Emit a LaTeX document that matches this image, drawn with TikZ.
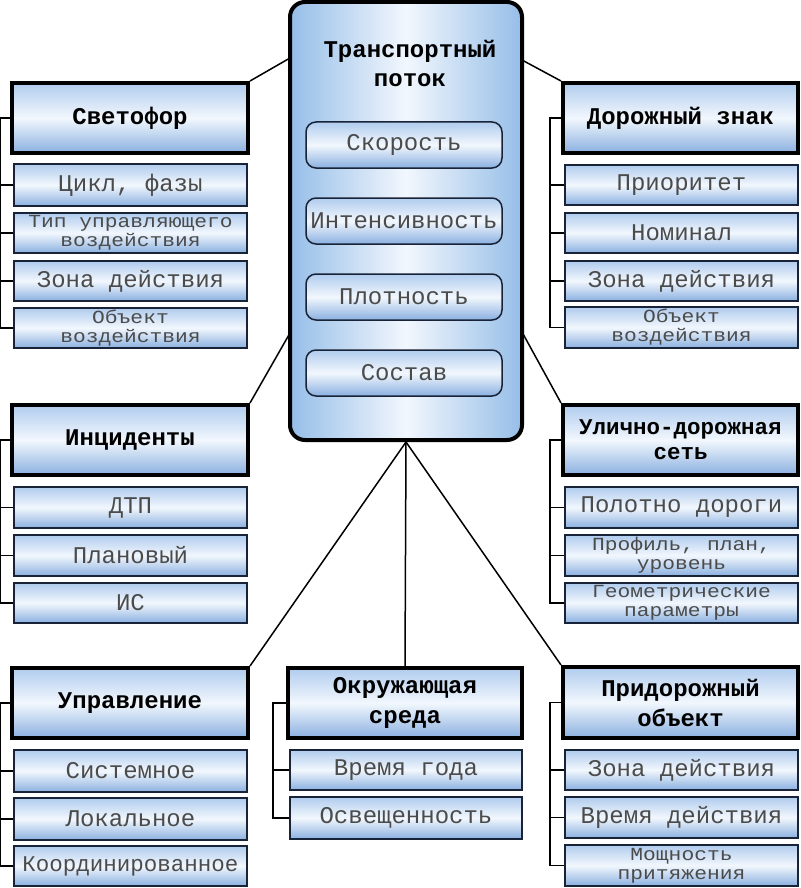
\documentclass[tikz,border=0pt]{standalone}
\usepackage{fontspec}
\newfontfamily\mono{Liberation Mono}
\newfontfamily\monow[FakeStretch=1.15]{Liberation Mono}
\definecolor{gtop}{RGB}{176,204,238}
\definecolor{gmid}{RGB}{242,247,253}
\definecolor{gbot}{RGB}{138,176,224}
\definecolor{cside}{RGB}{150,190,232}
\definecolor{bnavy}{RGB}{25,35,55}
\definecolor{txtg}{RGB}{75,75,75}
\tikzset{
  hdr/.style={draw=black, line width=4pt, top color=gtop, bottom color=gbot, middle color=gmid,
    font=\mono\bfseries\fontsize{24}{28}\selectfont, align=center, inner sep=0pt, text=black},
  hdrtwo/.style={hdr, font=\mono\bfseries\fontsize{24}{30}\selectfont},
  chld/.style={draw=bnavy, line width=1.5pt, top color=gtop, bottom color=gbot, middle color=gmid,
    font=\mono\fontsize{24}{24}\selectfont, align=center, inner sep=0pt, text=txtg},
  chldtwo/.style={chld, font=\monow\fontsize{18.5}{19}\selectfont},
  chldlong/.style={chld, font=\mono\fontsize{22.5}{24}\selectfont},
  inner/.style={draw=bnavy, line width=1.5pt, rounded corners=10pt, top color=gtop, bottom color=gbot, middle color=gmid,
    font=\mono\fontsize{24}{24}\selectfont, inner sep=0pt, text=txtg},
  central/.style={draw=black, line width=4pt, rounded corners=15pt, left color=cside, right color=cside, middle color=gmid, inner sep=0pt},
  ttl/.style={font=\mono\bfseries\fontsize{24}{29}\selectfont, align=center, text=black},
  conn/.style={draw=black, line width=1.5pt},
  brk/.style={draw=black, line width=1.3pt}
}
\newcommand\mkbox[7][]{\node[#1, minimum width={#5-#3}, minimum height={#6-#4}] (#2) at ({(#3+#5)/2},{(#4+#6)/2}) {#7};}
\begin{document}
\begin{tikzpicture}[x=1pt,y=-1pt]
\useasboundingbox (0,0) rectangle (800,888);
% central box
\mkbox[central]{tp}{290}{2}{522}{440}{}
\node[ttl, anchor=center] (tpt) at (410,63) {Транспортный\\поток};
\mkbox[inner]{v1}{306}{122}{502}{168}{Скорость}
\mkbox[inner]{v2}{306}{198}{502}{244}{Интенсивность}
\mkbox[inner]{v3}{306}{274}{502}{320}{Плотность}
\mkbox[inner]{v4}{306}{350}{502}{396}{Состав}
% left column
\mkbox[hdr]{sv}{12}{83}{248}{153}{Светофор}
\mkbox[chld]{sv1}{14}{164}{247}{206}{Цикл, фазы}
\mkbox[chldtwo]{sv2}{14}{213}{247}{253}{Тип управляющего\\воздействия}
\mkbox[chld]{sv3}{14}{261}{247}{301}{Зона действия}
\mkbox[chldtwo]{sv4}{14}{308}{247}{348}{Объект\\воздействия}
\mkbox[hdr]{in}{12}{405}{248}{475}{Инциденты}
\mkbox[chld]{in1}{14}{487}{247}{528}{ДТП}
\mkbox[chld]{in2}{14}{535}{247}{576}{Плановый}
\mkbox[chld]{in3}{14}{583}{247}{623}{ИС}
\mkbox[hdr]{up}{12}{668}{248}{738}{Управление}
\mkbox[chld]{up1}{14}{750}{247}{792}{Системное}
\mkbox[chld]{up2}{14}{798}{247}{840}{Локальное}
\mkbox[chldlong]{up3}{14}{846}{247}{886}{Координированное}
% middle bottom
\mkbox[hdrtwo]{ok}{288}{668}{522}{738}{Окружающая\\среда}
\mkbox[chld]{ok1}{290}{750}{522}{790}{Время года}
\mkbox[chld]{ok2}{290}{797}{522}{839}{Освещенность}
% right column
\mkbox[hdr]{dz}{563}{83}{798}{153}{Дорожный знак}
\mkbox[chld]{dz1}{565}{165}{798}{205}{Приоритет}
\mkbox[chld]{dz2}{565}{213}{798}{253}{Номинал}
\mkbox[chld]{dz3}{565}{261}{798}{301}{Зона действия}
\mkbox[chldtwo]{dz4}{565}{307}{798}{348}{Объект\\воздействия}
\mkbox[hdr, font=\mono\bfseries\fontsize{22.5}{25}\selectfont]{ud}{563}{405}{798}{475}{Улично-дорожная\\сеть}
\mkbox[chld]{ud1}{565}{487}{798}{528}{Полотно дороги}
\mkbox[chldtwo]{ud2}{565}{535}{798}{576}{Профиль, план,\\уровень}
\mkbox[chldtwo]{ud3}{565}{583}{798}{623}{Геометрические\\параметры}
\mkbox[hdrtwo]{pr}{563}{667}{798}{738}{Придорожный\\объект}
\mkbox[chld]{pr1}{565}{750}{798}{790}{Зона действия}
\mkbox[chld]{pr2}{565}{797}{798}{838}{Время действия}
\mkbox[chldtwo]{pr3}{565}{845}{798}{886}{Мощность\\притяжения}
% connectors
\coordinate (tpL1) at (290,58);
\coordinate (tpR1) at (522,60);
\coordinate (tpL2) at (290,333);
\coordinate (tpR2) at (522,332);
\draw[conn] (sv.north east) -- (tpL1);
\draw[conn] (tpR1) -- (dz.north west);
\draw[conn] (in.north east) -- (tpL2);
\draw[conn] (tpR2) -- (ud.north west);
\draw[conn] (tp.south) -- (up.north east);
\draw[conn] (tp.south) -- (ok.north);
\draw[conn] (tp.south) -- (pr.north west);
% brackets
\draw[brk] (sv.west) -- ++(-10,0) |- (sv4.west);
\foreach \n in {sv1,sv2,sv3} \draw[brk] (\n.west) -- ++(-12,0);
\draw[brk] (in.west) -- ++(-10,0) |- (in3.west);
\foreach \n in {in1,in2} \draw[brk] (\n.west) -- ++(-12,0);
\draw[brk] (up.west) -- ++(-10,0) |- (up3.west);
\foreach \n in {up1,up2} \draw[brk] (\n.west) -- ++(-12,0);
\draw[brk] (ok.west) -- ++(-13,0) |- (ok2.west);
\draw[brk] (ok1.west) -- ++(-15,0);
\draw[brk] (dz.west) -- ++(-11,0) |- (dz4.west);
\foreach \n in {dz1,dz2,dz3} \draw[brk] (\n.west) -- ++(-13,0);
\draw[brk] (ud.west) -- ++(-11,0) |- (ud3.west);
\foreach \n in {ud1,ud2} \draw[brk] (\n.west) -- ++(-13,0);
\draw[brk] (pr.west) -- ++(-11,0) |- (pr3.west);
\foreach \n in {pr1,pr2} \draw[brk] (\n.west) -- ++(-13,0);
\end{tikzpicture}
\end{document}
